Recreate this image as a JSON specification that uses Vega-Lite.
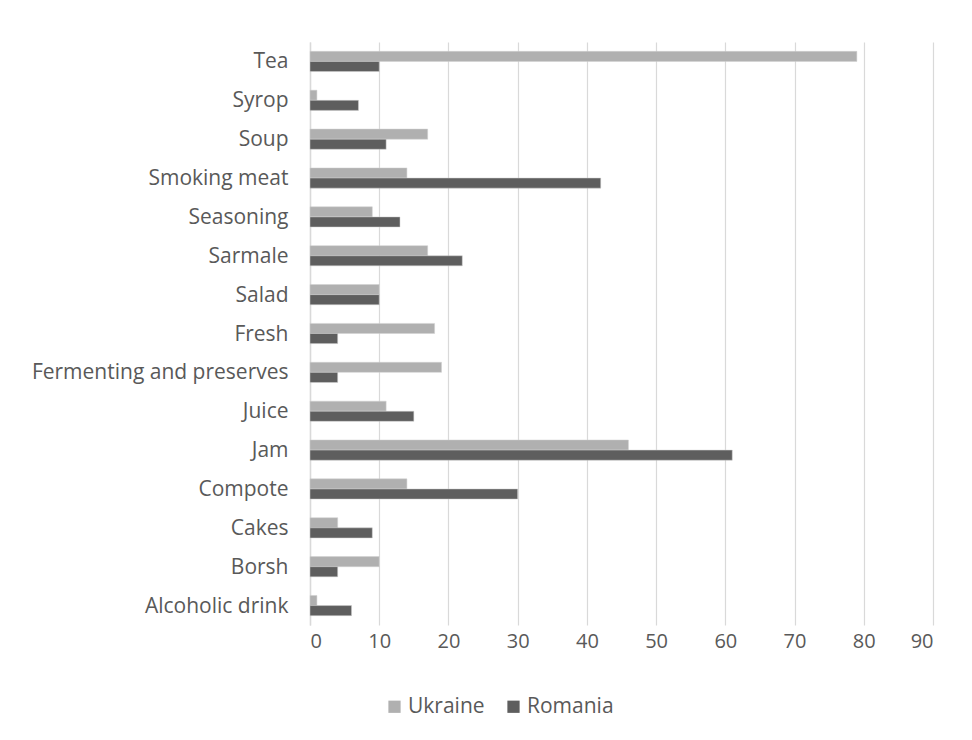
{
  "$schema": "https://vega.github.io/schema/vega-lite/v6.json",
  "width": 623,
  "height": 583,
  "autosize": {"type": "none"},
  "padding": {"left": 310, "top": 42, "right": 39, "bottom": 115},
  "background": "white",
  "data": {
    "values": [
      {"item": "Tea", "country": "Ukraine", "value": 79},
      {"item": "Tea", "country": "Romania", "value": 10},
      {"item": "Syrop", "country": "Ukraine", "value": 1},
      {"item": "Syrop", "country": "Romania", "value": 7},
      {"item": "Soup", "country": "Ukraine", "value": 17},
      {"item": "Soup", "country": "Romania", "value": 11},
      {"item": "Smoking meat", "country": "Ukraine", "value": 14},
      {"item": "Smoking meat", "country": "Romania", "value": 42},
      {"item": "Seasoning", "country": "Ukraine", "value": 9},
      {"item": "Seasoning", "country": "Romania", "value": 13},
      {"item": "Sarmale", "country": "Ukraine", "value": 17},
      {"item": "Sarmale", "country": "Romania", "value": 22},
      {"item": "Salad", "country": "Ukraine", "value": 10},
      {"item": "Salad", "country": "Romania", "value": 10},
      {"item": "Fresh", "country": "Ukraine", "value": 18},
      {"item": "Fresh", "country": "Romania", "value": 4},
      {"item": "Fermenting and preserves", "country": "Ukraine", "value": 19},
      {"item": "Fermenting and preserves", "country": "Romania", "value": 4},
      {"item": "Juice", "country": "Ukraine", "value": 11},
      {"item": "Juice", "country": "Romania", "value": 15},
      {"item": "Jam", "country": "Ukraine", "value": 46},
      {"item": "Jam", "country": "Romania", "value": 61},
      {"item": "Compote", "country": "Ukraine", "value": 14},
      {"item": "Compote", "country": "Romania", "value": 30},
      {"item": "Cakes", "country": "Ukraine", "value": 4},
      {"item": "Cakes", "country": "Romania", "value": 9},
      {"item": "Borsh", "country": "Ukraine", "value": 10},
      {"item": "Borsh", "country": "Romania", "value": 4},
      {"item": "Alcoholic drink", "country": "Ukraine", "value": 1},
      {"item": "Alcoholic drink", "country": "Romania", "value": 6}
    ]
  },
  "mark": {"type": "bar", "stroke": "#d0d0d0", "strokeWidth": 0.5},
  "encoding": {
    "y": {
      "field": "item",
      "type": "nominal",
      "sort": ["Tea", "Syrop", "Soup", "Smoking meat", "Seasoning", "Sarmale", "Salad", "Fresh", "Fermenting and preserves", "Juice", "Jam", "Compote", "Cakes", "Borsh", "Alcoholic drink"],
      "scale": {"paddingInner": 0.48, "paddingOuter": 0.24},
      "axis": {
        "title": null,
        "ticks": false,
        "domain": true,
        "domainColor": "#d9d9d9",
        "domainWidth": 1.5,
        "grid": false,
        "labelFont": "Open Sans",
        "labelFontSize": 21,
        "labelColor": "#595959",
        "labelPadding": 22,
        "labelOffset": 1,
        "labelLimit": 320
      }
    },
    "yOffset": {
      "field": "country",
      "type": "nominal",
      "sort": ["Ukraine", "Romania"],
      "scale": {"paddingInner": 0, "paddingOuter": 0}
    },
    "x": {
      "field": "value",
      "type": "quantitative",
      "scale": {"domain": [0, 90], "nice": false},
      "axis": {
        "title": null,
        "values": [0, 10, 20, 30, 40, 50, 60, 70, 80, 90],
        "ticks": false,
        "domain": false,
        "grid": true,
        "gridColor": "#d9d9d9",
        "gridWidth": 1.2,
        "labelFont": "Open Sans",
        "labelFontSize": 20,
        "labelColor": "#595959",
        "labelPadding": 6
      }
    },
    "color": {
      "field": "country",
      "type": "nominal",
      "sort": ["Ukraine", "Romania"],
      "scale": {"domain": ["Ukraine", "Romania"], "range": ["#b0b0b0", "#5e5e5e"]},
      "legend": {
        "title": null,
        "orient": "none",
        "direction": "horizontal",
        "legendX": 74,
        "legendY": 654,
        "symbolType": "square",
        "symbolSize": 150,
        "symbolStrokeWidth": 0,
        "labelFont": "Open Sans",
        "labelFontSize": 21,
        "labelColor": "#595959",
        "labelOffset": 3,
        "columnPadding": 18
      }
    }
  },
  "config": {
    "view": {"stroke": null}
  }
}
